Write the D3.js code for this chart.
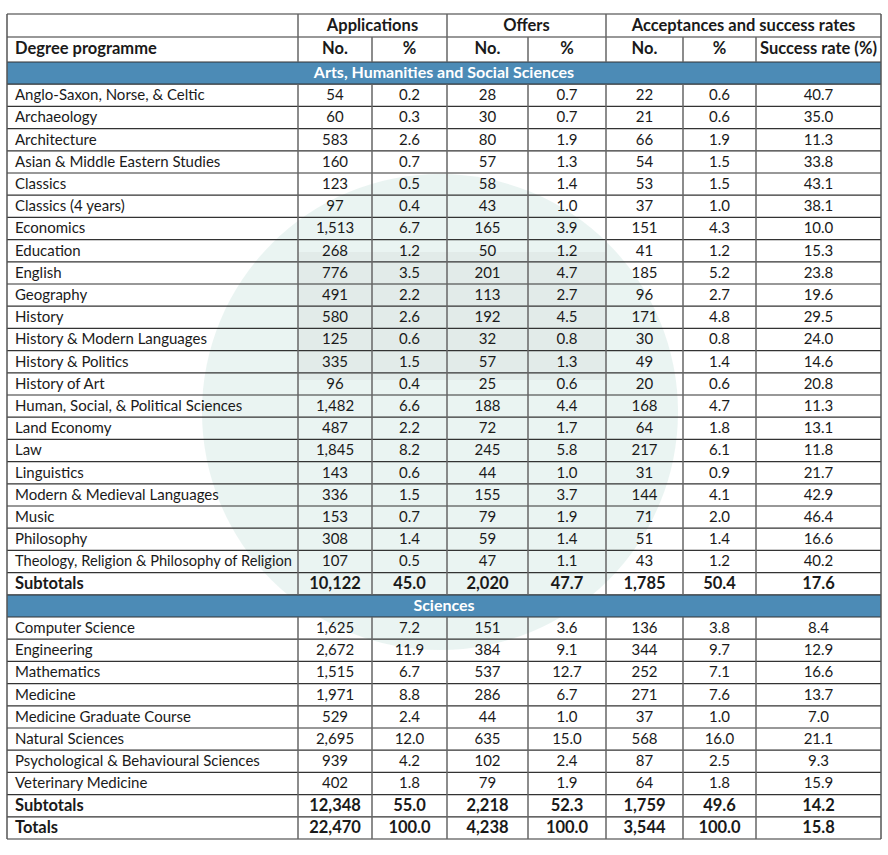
<!DOCTYPE html>
<html>
<head>
<meta charset="utf-8">
<script src="https://cdn.jsdelivr.net/npm/d3@7"></script>
<style>
  html, body { margin: 0; padding: 0; background: #fff; }
  svg { display: block; }
  text { font-family: Lato, "Open Sans", sans-serif; fill: #1a1a1a; }
</style>
</head>
<body>
<svg id="chart" width="888" height="855"></svg>
<script>
// ---------- data ----------
const groupTitles = ["Arts, Humanities and Social Sciences", "Sciences"];
const headerGroups = ["Applications", "Offers", "Acceptances and success rates"];
const subHeaders = ["Degree programme", "No.", "%", "No.", "%", "No.", "%", "Success rate (%)"];

const artsProgrammes = ["Anglo-Saxon, Norse, & Celtic", "Archaeology", "Architecture", "Asian & Middle Eastern Studies", "Classics", "Classics (4 years)", "Economics", "Education", "English", "Geography", "History", "History & Modern Languages", "History & Politics", "History of Art", "Human, Social, & Political Sciences", "Land Economy", "Law", "Linguistics", "Modern & Medieval Languages", "Music", "Philosophy", "Theology, Religion & Philosophy of Religion"];
const artsAppsNo   = [54, 60, 583, 160, 123, 97, 1513, 268, 776, 491, 580, 125, 335, 96, 1482, 487, 1845, 143, 336, 153, 308, 107];
const artsAppsPct  = [0.2, 0.3, 2.6, 0.7, 0.5, 0.4, 6.7, 1.2, 3.5, 2.2, 2.6, 0.6, 1.5, 0.4, 6.6, 2.2, 8.2, 0.6, 1.5, 0.7, 1.4, 0.5];
const artsOffNo    = [28, 30, 80, 57, 58, 43, 165, 50, 201, 113, 192, 32, 57, 25, 188, 72, 245, 44, 155, 79, 59, 47];
const artsOffPct   = [0.7, 0.7, 1.9, 1.3, 1.4, 1.0, 3.9, 1.2, 4.7, 2.7, 4.5, 0.8, 1.3, 0.6, 4.4, 1.7, 5.8, 1.0, 3.7, 1.9, 1.4, 1.1];
const artsAccNo    = [22, 21, 66, 54, 53, 37, 151, 41, 185, 96, 171, 30, 49, 20, 168, 64, 217, 31, 144, 71, 51, 43];
const artsAccPct   = [0.6, 0.6, 1.9, 1.5, 1.5, 1.0, 4.3, 1.2, 5.2, 2.7, 4.8, 0.8, 1.4, 0.6, 4.7, 1.8, 6.1, 0.9, 4.1, 2.0, 1.4, 1.2];
const artsSuccess  = [40.7, 35.0, 11.3, 33.8, 43.1, 38.1, 10.0, 15.3, 23.8, 19.6, 29.5, 24.0, 14.6, 20.8, 11.3, 13.1, 11.8, 21.7, 42.9, 46.4, 16.6, 40.2];
const artsSubtotal = [10122, 45.0, 2020, 47.7, 1785, 50.4, 17.6];

const sciProgrammes = ["Computer Science", "Engineering", "Mathematics", "Medicine", "Medicine Graduate Course", "Natural Sciences", "Psychological & Behavioural Sciences", "Veterinary Medicine"];
const sciAppsNo   = [1625, 2672, 1515, 1971, 529, 2695, 939, 402];
const sciAppsPct  = [7.2, 11.9, 6.7, 8.8, 2.4, 12.0, 4.2, 1.8];
const sciOffNo    = [151, 384, 537, 286, 44, 635, 102, 79];
const sciOffPct   = [3.6, 9.1, 12.7, 6.7, 1.0, 15.0, 2.4, 1.9];
const sciAccNo    = [136, 344, 252, 271, 37, 568, 87, 64];
const sciAccPct   = [3.8, 9.7, 7.1, 7.6, 1.0, 16.0, 2.5, 1.8];
const sciSuccess  = [8.4, 12.9, 16.6, 13.7, 7.0, 21.1, 9.3, 15.9];
const sciSubtotal = [12348, 55.0, 2218, 52.3, 1759, 49.6, 14.2];

const totals = [22470, 100.0, 4238, 100.0, 3544, 100.0, 15.8];

// ---------- build rows ----------
function groupRows(names, cols) {
  return names.map((n, i) => ({ type: "data", label: n, values: cols.map(c => c[i]) }));
}
const rows = [];
rows.push({ type: "band", label: groupTitles[0] });
rows.push(...groupRows(artsProgrammes, [artsAppsNo, artsAppsPct, artsOffNo, artsOffPct, artsAccNo, artsAccPct, artsSuccess]));
rows.push({ type: "total", label: "Subtotals", values: artsSubtotal });
rows.push({ type: "band", label: groupTitles[1] });
rows.push(...groupRows(sciProgrammes, [sciAppsNo, sciAppsPct, sciOffNo, sciOffPct, sciAccNo, sciAccPct, sciSuccess]));
rows.push({ type: "total", label: "Subtotals", values: sciSubtotal });
rows.push({ type: "total", label: "Totals", values: totals });

// ---------- layout ----------
const svg = d3.select("#chart");
const colEdges = [7, 298, 372, 447, 528, 606, 683, 756, 881];
const tableTop = 14, h1 = 37, h2 = 62, bodyTop = 62, tableBottom = 839;
const y = d3.scaleBand().domain(d3.range(rows.length)).range([bodyTop, tableBottom]);
const fmtNo = d3.format(",");
const fmtPct = d3.format(".1f");
const isNoCol = [true, false, true, false, true, false, false];
const regSize = "15px", boldSize = "16.5px";

// watermark (faint circle)
svg.append("circle").attr("cx", 440).attr("cy", 412).attr("r", 238)
  .attr("fill", "#5fa99e").attr("opacity", 0.13);
svg.append("rect").attr("x", 298).attr("y", 252).attr("width", 308).attr("height", 128)
  .attr("fill", "#9a9a9a").attr("opacity", 0.1);

// bands
const band = svg.append("g");
rows.forEach((r, i) => {
  if (r.type === "band") {
    band.append("rect").attr("x", colEdges[0]).attr("y", y(i))
      .attr("width", colEdges[8] - colEdges[0]).attr("height", y.bandwidth())
      .attr("fill", "#4c8bb6");
    band.append("text").attr("x", (colEdges[0] + colEdges[8]) / 2).attr("y", y(i) + 16)
      .attr("text-anchor", "middle").style("font-size", "16px").style("font-weight", "700")
      .style("fill", "#ffffff").text(r.label);
  }
});

// header text
const hdr = svg.append("g");
headerGroups.forEach((g, k) => {
  const x0 = colEdges[1 + k * 2], x1 = colEdges[k === 2 ? 8 : 3 + k * 2];
  hdr.append("text").attr("x", (x0 + x1) / 2).attr("y", 31).attr("text-anchor", "middle")
    .style("font-size", boldSize).style("font-weight", "700").text(g);
});
subHeaders.forEach((s, j) => {
  const t = hdr.append("text").attr("y", 54).style("font-size", boldSize).style("font-weight", "700").text(s);
  if (j === 0) t.attr("x", 15);
  else t.attr("x", (colEdges[j] + colEdges[j + 1]) / 2).attr("text-anchor", "middle");
});

// body text
const body = svg.append("g");
rows.forEach((r, i) => {
  if (r.type === "band") return;
  const bold = r.type === "total";
  const ty = y(i) + 16;
  body.append("text").attr("x", 15).attr("y", ty)
    .style("font-size", bold ? boldSize : regSize).style("font-weight", bold ? "700" : "400")
    .attr("class", "lbl").text(r.label);
  r.values.forEach((v, j) => {
    body.append("text").attr("x", (colEdges[j + 1] + colEdges[j + 2]) / 2).attr("y", ty)
      .attr("text-anchor", "middle").style("font-size", bold ? boldSize : regSize).style("font-weight", bold ? "700" : "400")
      .text(isNoCol[j] ? fmtNo(v) : fmtPct(v));
  });
});
// fit long labels in first column
body.selectAll("text.lbl").each(function() {
  const w = this.getComputedTextLength();
  const max = colEdges[1] - 15 - 6;
  if (w > max) d3.select(this).attr("textLength", max).attr("lengthAdjust", "spacingAndGlyphs");
});

// grid lines
const grid = svg.append("g");
const hLines = [tableTop, h1, h2].concat(d3.range(rows.length).map(i => y(i) + y.bandwidth()));
hLines.forEach(yy => {
  grid.append("line").attr("x1", colEdges[0]).attr("x2", colEdges[8]).attr("y1", yy).attr("y2", yy)
    .attr("stroke", "#333").attr("stroke-width", 1.2);
});
grid.append("line").attr("x1", colEdges[0]).attr("x2", colEdges[0]).attr("y1", tableTop).attr("y2", tableBottom)
  .attr("stroke", "#555").attr("stroke-width", 1.5);
grid.append("line").attr("x1", colEdges[8]).attr("x2", colEdges[8]).attr("y1", tableTop).attr("y2", tableBottom)
  .attr("stroke", "#555").attr("stroke-width", 1.5);
const bandIdx = rows.map((r, i) => r.type === "band" ? i : -1).filter(i => i >= 0);
function vSegments(x, fromHeaderTop) {
  let start = fromHeaderTop ? tableTop : h1;
  bandIdx.forEach(bi => {
    grid.append("line").attr("x1", x).attr("x2", x).attr("y1", start).attr("y2", y(bi))
      .attr("stroke", "#666").attr("stroke-width", 1.5);
    start = y(bi) + y.bandwidth();
  });
  grid.append("line").attr("x1", x).attr("x2", x).attr("y1", start).attr("y2", tableBottom)
    .attr("stroke", "#666").attr("stroke-width", 1.5);
}
colEdges.slice(1, 8).forEach((x, j) => {
  const groupBoundary = (j === 0 || j === 2 || j === 4);
  vSegments(x, groupBoundary);
});
</script>
</body>
</html>
